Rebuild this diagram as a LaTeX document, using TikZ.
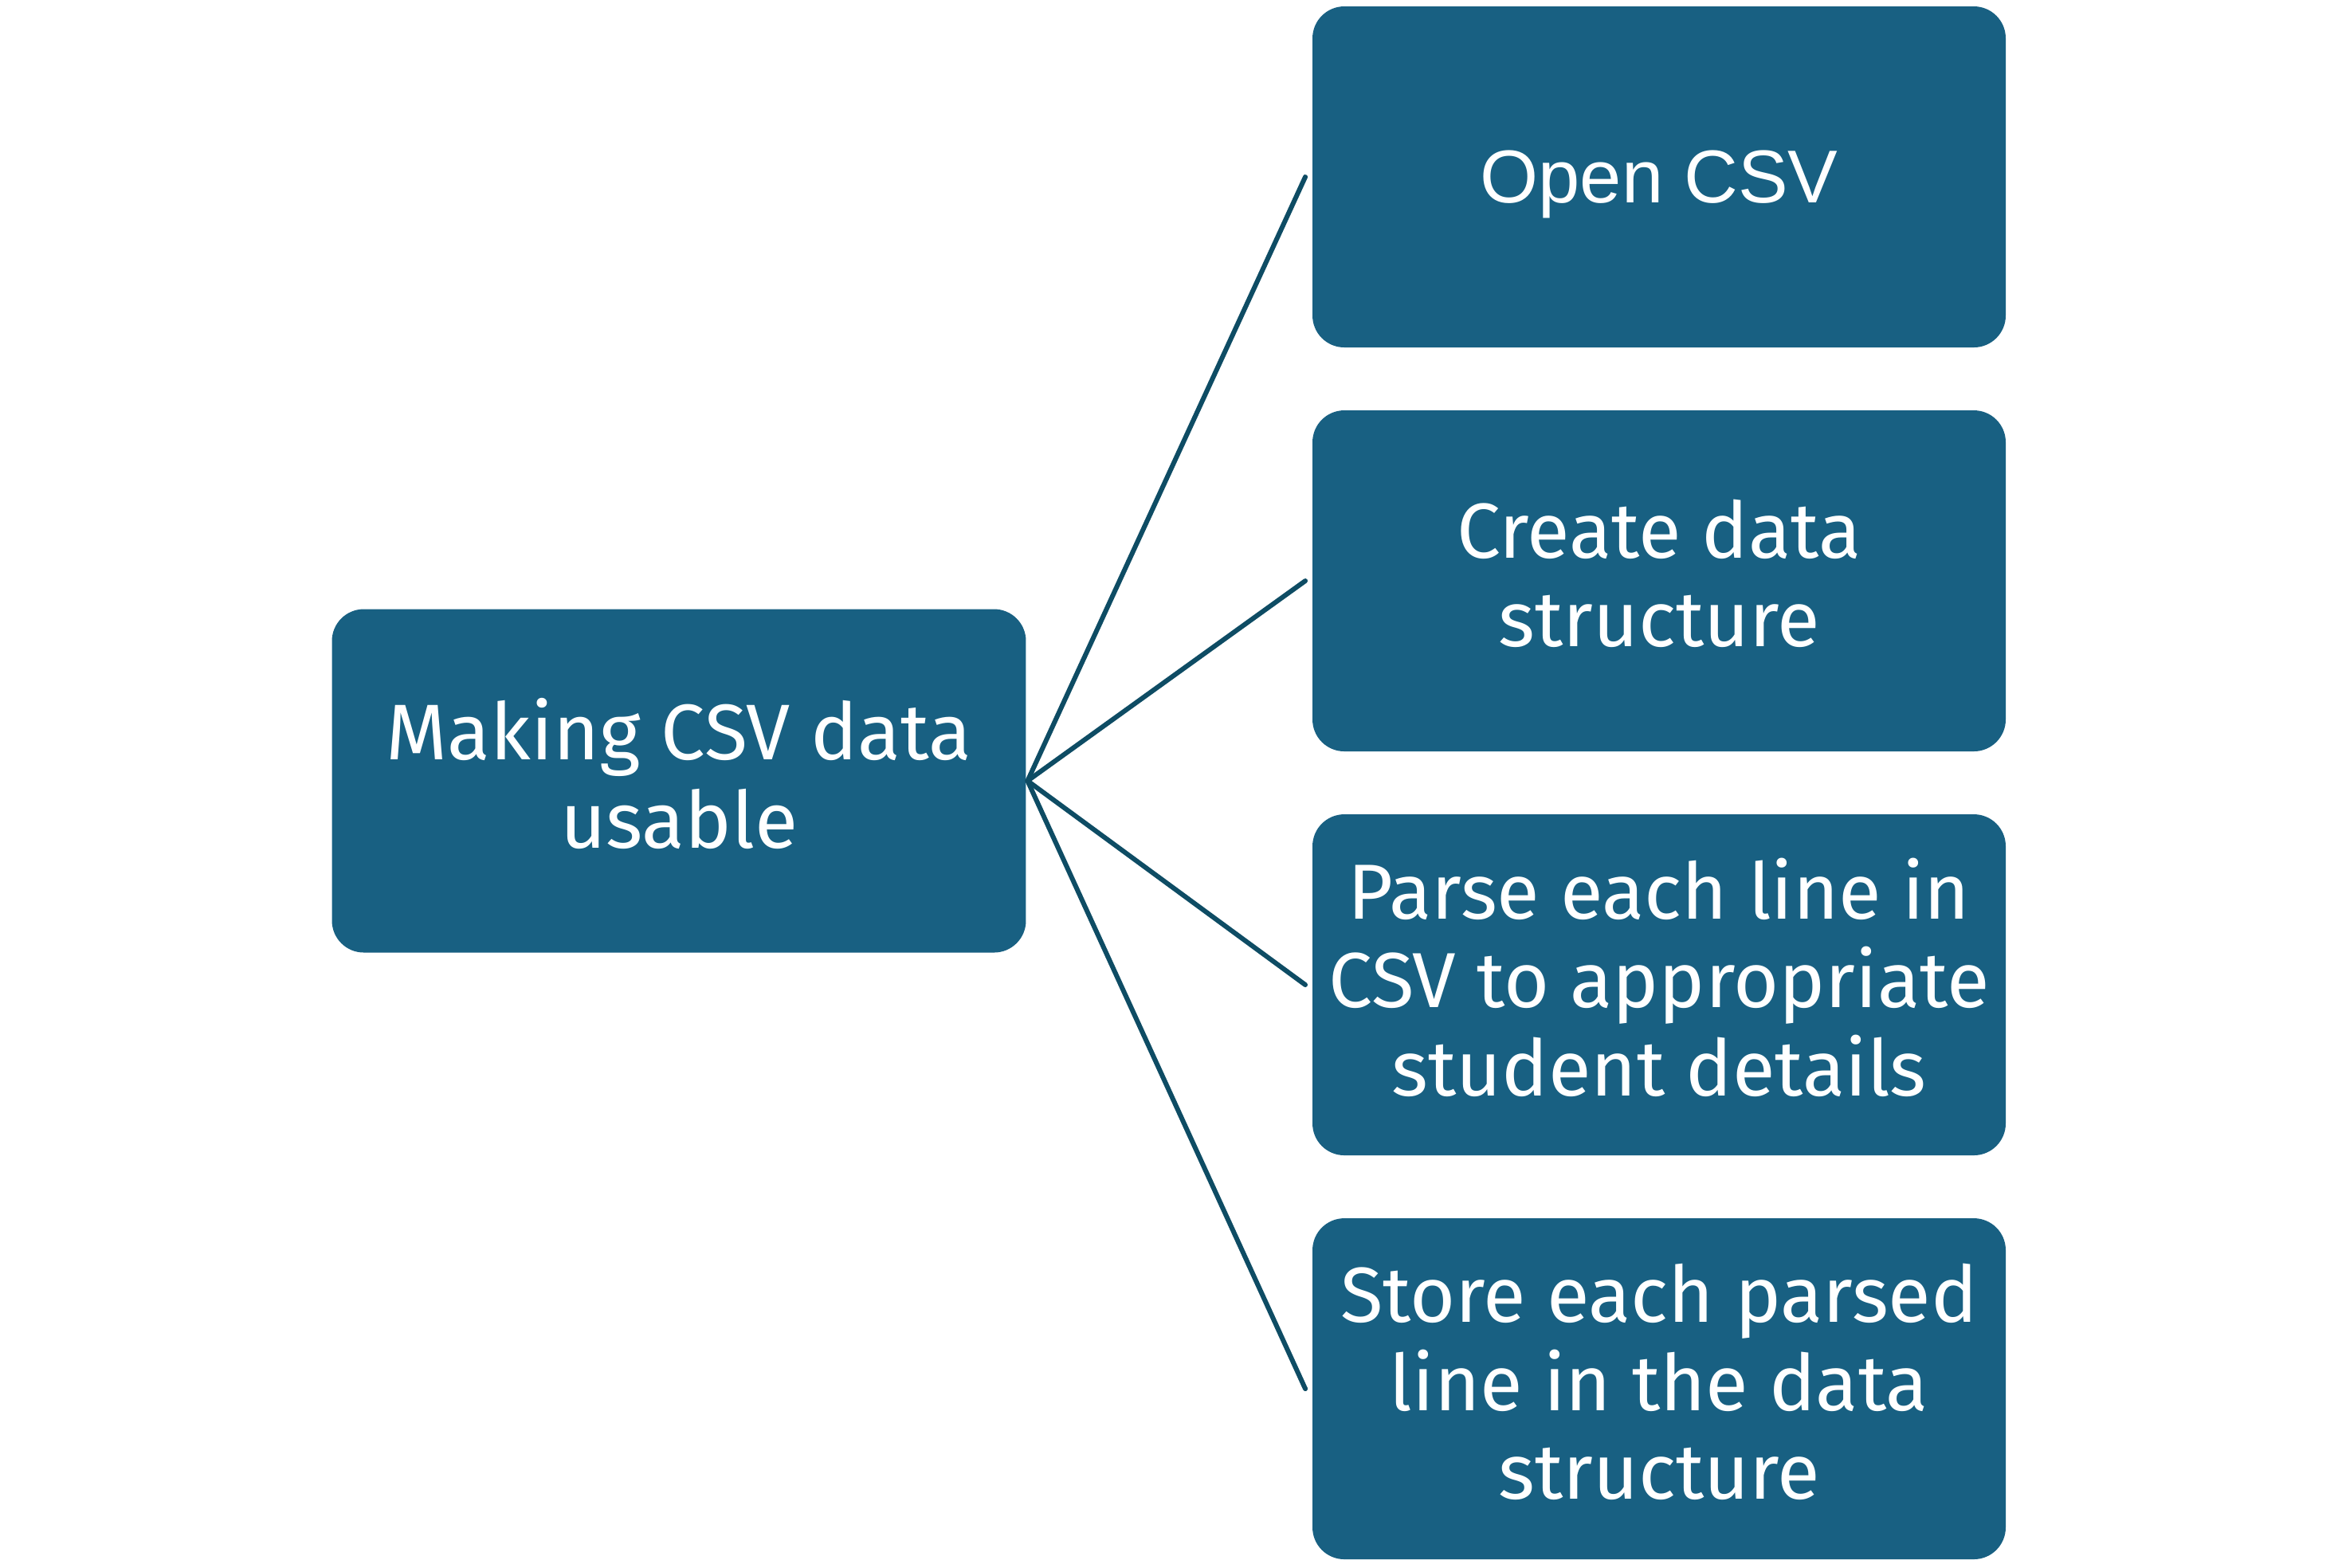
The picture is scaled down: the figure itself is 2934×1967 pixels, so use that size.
\documentclass[tikz,border=0pt]{standalone}
\usepackage{fontspec}
\setmainfont{Fira Sans}
\newfontfamily\arialfont{Liberation Sans}
\definecolor{boxblue}{RGB}{24,96,130}
\definecolor{linkblue}{RGB}{14,76,100}
\tikzset{
	stepbox/.style={fill=boxblue, text=white, rounded corners=4pt, align=center,
		minimum width=87pt, minimum height=42.8pt, inner sep=0pt, text depth=1.9pt,
		font=\fontsize{9.8pt}{11.1pt}\selectfont},
	link/.style={draw=linkblue, line width=0.6pt}
}
\begin{document}
\begin{tikzpicture}[x=0.1pt, y=-0.1pt, line join=round, line cap=round]
				\useasboundingbox (0,0) rectangle (2934,1967);
				\path
				(852,980) coordinate (M)
				(2082,222) coordinate (S1)
				(2082,729) coordinate (S2)
				(2082,1236) coordinate (S3)
				(2082,1743) coordinate (S4)
				;
				\node (main) at (M) [stepbox, minimum width=87.1pt, minimum height=43.1pt,
					font=\fontsize{9.9pt}{11.1pt}\selectfont] {Making CSV data\\usable};
				\node (open) at (S1) [stepbox, text height=8.4pt, text depth=2pt,
					font=\arialfont\fontsize{9.4pt}{11.1pt}\selectfont] {Open CSV};
				\node (create) at (S2) [stepbox] {Create data\\structure};
				\node (parse) at (S3) [stepbox] {Parse each line in\\CSV to appropriate\\student details};
				\node (store) at (S4) [stepbox] {Store each parsed\\line in the data\\structure};
				
				%\node at (main.east) [right] {};
				\draw[link] (main.east) -- ([xshift=-0.7pt]open.west);
				\draw[link] (main.east) -- ([xshift=-0.7pt]create.west);
				\draw[link] (main.east) -- ([xshift=-0.7pt]parse.west);
				\draw[link] (main.east) -- ([xshift=-0.7pt]store.west);
\end{tikzpicture}
\end{document}
